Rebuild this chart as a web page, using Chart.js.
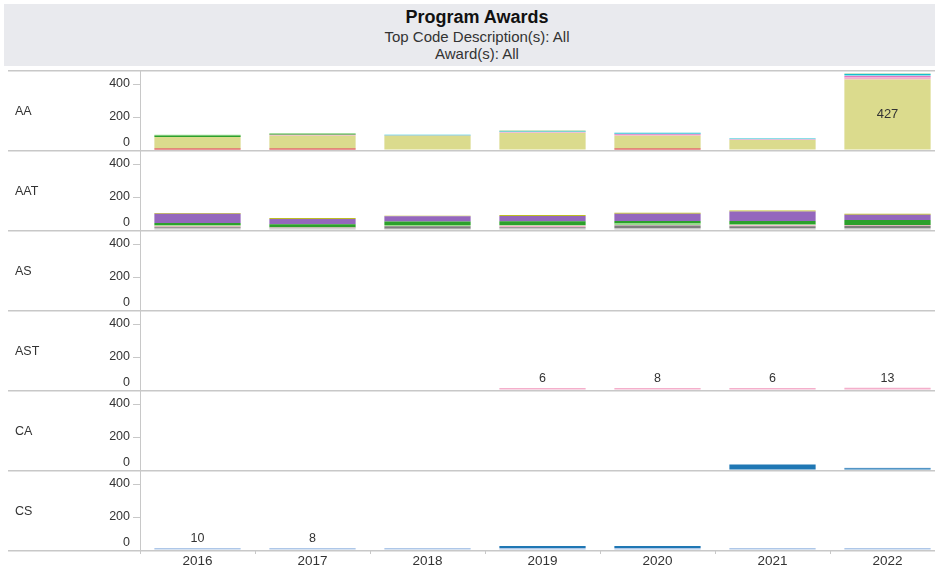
<!DOCTYPE html>
<html>
<head>
<meta charset="utf-8">
<script src="https://cdn.jsdelivr.net/npm/chart.js@4"></script>
<style>
html,body{margin:0;padding:0;background:#fff;overflow:hidden;width:935px;height:571px;}
#band{position:absolute;left:4px;top:4px;width:946px;height:62px;background:#e9eaee;font-family:'Liberation Sans',Arial,sans-serif;}
.t{position:absolute;left:0;right:0;text-align:center;white-space:nowrap;}
#t1{top:3px;line-height:20px;font-size:18px;font-weight:bold;color:#111;}
#t2{top:25px;line-height:16px;font-size:15px;color:#333;}
#t3{top:42px;line-height:16px;font-size:15px;color:#333;}
#wrap{position:absolute;left:0;top:58px;width:945px;height:513px;}
</style>
</head>
<body>
<div id="band">
  <div class="t" id="t1">Program Awards</div>
  <div class="t" id="t2">Top Code Description(s): All</div>
  <div class="t" id="t3">Award(s): All</div>
</div>
<div id="wrap"><canvas id="c" width="945" height="513"></canvas></div>
<script>
// ---------- data ----------
const years = ['2016', '2017', '2018', '2019', '2020', '2021', '2022'];
const rowNames = ['AA', 'AAT', 'AS', 'AST', 'CA', 'CS'];
const yTickValues = [0, 200, 400];
const yMax = 485;

// AA (stacked bottom -> top)
const AA_red        = [9, 9, 0, 0, 9, 0, 0];
const AA_lightOlive = [70, 78, 86, 103, 78, 60, 427];
const AA_lightPink  = [0, 6, 2, 5, 4, 3, 12];
const AA_pink       = [0, 0, 0, 0, 4, 2, 10];
const AA_lightCyan  = [0, 0, 0, 3, 3, 0, 6];
const AA_cyan       = [0, 0, 4, 3, 7, 4, 5];
const AA_green      = [9, 6, 0, 3, 0, 0, 3];
const AA_lightGreen = [4, 3, 0, 0, 0, 0, 0];

// AAT (stacked bottom -> top)
const AAT_lightGray  = [12, 10, 8, 12, 12, 12, 12];
const AAT_gray       = [5, 0, 14, 4, 16, 10, 12];
const AAT_lightBrown = [4, 0, 3, 0, 0, 3, 3];
const AAT_lightPink  = [4, 5, 0, 10, 2, 4, 3];
const AAT_lightGreen = [4, 0, 6, 5, 10, 5, 0];
const AAT_green      = [14, 20, 20, 22, 14, 20, 30];
const AAT_purple     = [55, 32, 32, 32, 45, 58, 33];
const AAT_olive      = [5, 5, 3, 6, 6, 6, 5];

// AST
const AST_lightPink = [0, 0, 0, 6, 8, 6, 13];

// CA
const CA_blue      = [0, 0, 0, 0, 0, 33, 10];
const CA_lightBlue = [0, 0, 0, 0, 0, 0, 3];

// CS
const CS_lightBlue = [10, 8, 7, 4, 4, 7, 7];
const CS_blue      = [0, 0, 0, 12, 12, 0, 0];

const rowSeries = {
  AA: [['red', AA_red], ['lightOlive', AA_lightOlive], ['lightPink', AA_lightPink], ['pink', AA_pink],
       ['lightCyan', AA_lightCyan], ['cyan', AA_cyan], ['green', AA_green], ['lightGreen', AA_lightGreen]],
  AAT: [['lightGray', AAT_lightGray], ['gray', AAT_gray], ['lightBrown', AAT_lightBrown], ['lightPink', AAT_lightPink],
        ['lightGreen', AAT_lightGreen], ['green', AAT_green], ['purple', AAT_purple], ['olive', AAT_olive]],
  AS: [],
  AST: [['lightPink', AST_lightPink]],
  CA: [['blue', CA_blue], ['lightBlue', CA_lightBlue]],
  CS: [['lightBlue', CS_lightBlue], ['blue', CS_blue]]
};

// labels shown on the chart: [row, series, year, placement]
const valueLabels = [
  ['AA', 'lightOlive', '2022', 'inside'],
  ['AST', 'lightPink', '2019', 'above'],
  ['AST', 'lightPink', '2020', 'above'],
  ['AST', 'lightPink', '2021', 'above'],
  ['AST', 'lightPink', '2022', 'above'],
  ['CS', 'lightBlue', '2016', 'above'],
  ['CS', 'lightBlue', '2017', 'above']
];

// ---------- styles ----------
const palette = {
  blue: '#1f77b4', lightBlue: '#aec7e8', green: '#2ca02c', lightGreen: '#98df8a',
  red: '#d62728', purple: '#9467bd', lightBrown: '#c49c94', pink: '#e377c2',
  lightPink: '#f4afcb', gray: '#7f7f7f', lightGray: '#c7c7c7', olive: '#bcbd22',
  lightOlive: '#dbdb8d', cyan: '#17becf', lightCyan: '#9edae5'
};
const minLenRows = ['AST', 'CS'];
const FONT = "'Liberation Sans', Arial, sans-serif";
const LINE = '#c8c8c8';
Chart.defaults.font.family = FONT;
Chart.defaults.color = '#333';

const datasets = [];
rowNames.forEach(r => {
  rowSeries[r].forEach(([key, vals]) => {
    datasets.push({
      label: r + ' ' + key,
      data: vals.map(v => (v === 0 ? null : v)),
      backgroundColor: palette[key],
      borderWidth: 0,
      minBarLength: minLenRows.includes(r) ? 2 : 0,
      yAxisID: 'y' + r,
      stack: r,
      grouped: false,
      barPercentage: 0.75,
      categoryPercentage: 1
    });
  });
});

const scales = {
  x: {
    type: 'category',
    labels: years,
    stacked: true,
    offset: true,
    position: 'bottom',
    grid: { offset: true, drawOnChartArea: false, drawTicks: true, tickLength: 4, color: LINE },
    border: { display: true, color: LINE },
    ticks: { padding: 0, autoSkip: false, maxRotation: 0, color: '#333', font: { size: 13.5, lineHeight: 1.1 } },
    afterFit: s => { s.height = 21; }
  }
};
// define bottom row first: left stacked axes are placed in reverse order
rowNames.slice().reverse().forEach(r => {
  scales['y' + r] = {
    type: 'linear',
    position: 'left',
    stack: 'rows',
    stackWeight: 1,
    stacked: true,
    min: 0,
    max: yMax,
    grid: { drawOnChartArea: false, drawTicks: true, tickLength: 7, color: LINE },
    border: { display: true, color: LINE },
    ticks: {
      padding: 3, autoSkip: false, color: '#333', font: { size: 12.5, lineHeight: 1.2 },
      callback: v => (v === 0 ? ['0', ''] : String(v))
    },
    afterBuildTicks: s => { s.ticks = yTickValues.map(v => ({ value: v })); },
    afterFit: s => { s.width = 140; }
  };
});

const decor = {
  id: 'decor',
  beforeDatasetsDraw(chart) {
    const ctx = chart.ctx;
    ctx.save();
    ctx.strokeStyle = LINE;
    ctx.lineWidth = 1.5;
    rowNames.forEach((r, i) => {
      const s = chart.scales['y' + r];
      const ys = i === 0 ? [s.top, s.bottom] : [s.bottom];
      ys.forEach(y => {
        ctx.beginPath();
        ctx.moveTo(8, y + 0.75);
        ctx.lineTo(chart.width, y + 0.75);
        ctx.stroke();
      });
    });
    ctx.restore();
  },
  afterDatasetsDraw(chart) {
    const ctx = chart.ctx;
    ctx.save();
    ctx.fillStyle = '#333';
    ctx.textAlign = 'left';
    ctx.textBaseline = 'middle';
    ctx.font = '12.5px ' + FONT;
    rowNames.forEach(r => {
      const s = chart.scales['y' + r];
      ctx.fillText(r, 15, (s.top + s.bottom) / 2 + 2);
    });
    ctx.textAlign = 'center';
    valueLabels.forEach(([r, key, yr, place]) => {
      const di = chart.data.datasets.findIndex(d => d.label === r + ' ' + key);
      if (di < 0) return;
      const idx = years.indexOf(yr);
      const el = chart.getDatasetMeta(di).data[idx];
      const v = chart.data.datasets[di].data[idx];
      if (!el || v == null) return;
      if (place === 'inside') {
        ctx.font = '13px ' + FONT;
        ctx.textBaseline = 'middle';
        ctx.fillText(String(v), el.x, (el.y + el.base) / 2);
      } else {
        ctx.font = '12.5px ' + FONT;
        ctx.textBaseline = 'bottom';
        ctx.fillText(String(v), el.x, Math.min(el.y, el.base - 2) - 3);
      }
    });
    ctx.restore();
  }
};

new Chart(document.getElementById('c'), {
  type: 'bar',
  data: { labels: years, datasets },
  options: {
    responsive: false,
    animation: false,
    events: [],
    layout: { padding: { top: 12, left: 0, right: 0, bottom: 0 } },
    plugins: { legend: { display: false }, tooltip: { enabled: false }, title: { display: false } },
    scales
  },
  plugins: [decor]
});
</script>
</body>
</html>
